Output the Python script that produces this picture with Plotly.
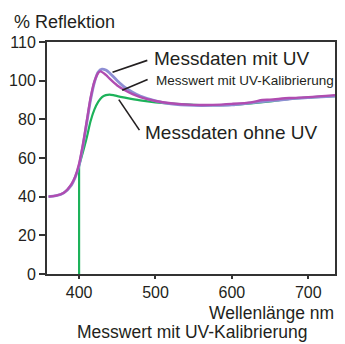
import plotly.graph_objects as go

# Wavelength (nm) and % reflection values
wl_uv = [360, 370, 380, 390, 395, 400, 405, 410, 415, 420, 425, 430, 435, 440, 450, 460, 470, 480, 500, 520, 550, 575, 600, 625, 650, 675, 700, 735]
r_uv = [40, 40.5, 42, 46, 50, 56, 66, 78, 90, 99, 104.5, 106, 105.5, 104, 100, 96.5, 94, 92, 89.5, 88, 87.2, 87.2, 87.5, 88.5, 89.5, 90.5, 91.2, 92]

wl_cal = [360, 370, 380, 390, 395, 400, 405, 410, 415, 420, 425, 428, 435, 440, 450, 460, 470, 480, 500, 520, 550, 575, 600, 625, 640, 650, 675, 700, 735]
r_cal = [40, 40.5, 42, 46.5, 50.5, 57, 67, 79, 91, 99.5, 104, 104.8, 103, 101, 97.5, 95, 93, 91.5, 89.5, 88.3, 87.5, 87.5, 88, 88.8, 90, 90.2, 91, 91.5, 92.5]

wl_no = [400, 400, 405, 410, 415, 420, 425, 430, 435, 440, 445, 450, 460, 480, 500, 525, 550, 575, 600, 625, 650, 675, 700, 735]
r_no = [0, 56, 63, 70.5, 79, 85, 89, 91.5, 92.5, 92.8, 92.5, 92, 91.2, 89.8, 88.8, 88, 87.5, 87.3, 87.5, 88.3, 89.3, 90.5, 91.3, 92]

y_tickvals = [0, 20, 40, 60, 80, 100, 120]
y_ticktext = ["0", "20", "40", "60", "80", "100", "110"]
x_tickvals = [400, 500, 600, 700]

FONT = "Liberation Sans, Arial, Helvetica, sans-serif"
INK = "#231f20"
GREEN = "#1db25a"

fig = go.Figure()
# green: straight vertical rise at 400 nm, then the smooth curve
fig.add_trace(go.Scatter(x=wl_no[:2], y=r_no[:2], mode="lines", line=dict(color=GREEN, width=2.2)))
fig.add_trace(go.Scatter(x=wl_no[1:], y=r_no[1:], mode="lines", line=dict(color=GREEN, width=2.2, shape="spline", smoothing=0.6)))
fig.add_trace(go.Scatter(x=wl_uv, y=r_uv, mode="lines", line=dict(color="#8e8ed4", width=2.8, shape="spline", smoothing=0.8)))
fig.add_trace(go.Scatter(x=wl_cal, y=r_cal, mode="lines", line=dict(color="#b04cb0", width=2.4, shape="spline", smoothing=0.8)))

# leader lines
leaders = [((443.8, 104.3), (489.3, 110.5)), ((456.4, 95.0), (489.7, 100.6)), ((452.0, 90.2), (479.0, 74.4))]
for (x0, y0), (x1, y1) in leaders:
    fig.add_shape(type="line", x0=x0, y0=y0, x1=x1, y1=y1, xref="x", yref="y", line=dict(color=INK, width=1.6))

fig.add_annotation(x=495.0, y=111.6, xref="x", yref="y", text="Messdaten mit UV", showarrow=False,
                   xanchor="left", yanchor="middle", font=dict(size=19, color=INK, family=FONT))
fig.add_annotation(x=497.5, y=100.0, xref="x", yref="y", text="Messwert mit UV-Kalibrierung", showarrow=False,
                   xanchor="left", yanchor="middle", font=dict(size=13.5, color=INK, family=FONT))
fig.add_annotation(x=484.0, y=73.3, xref="x", yref="y", text="Messdaten ohne UV", showarrow=False,
                   xanchor="left", yanchor="middle", font=dict(size=19, color=INK, family=FONT))

fig.add_annotation(x=-0.12, y=1.0875, xref="paper", yref="paper", text="% Reflektion", showarrow=False,
                   xanchor="left", yanchor="middle", font=dict(size=18, color=INK, family=FONT))
fig.add_annotation(x=1.005, y=-0.168, xref="paper", yref="paper", text="Wellenlänge nm", showarrow=False,
                   xanchor="right", yanchor="middle", font=dict(size=17.5, color=INK, family=FONT))
fig.add_annotation(x=0.503, y=-0.252, xref="paper", yref="paper", text="Messwert mit UV-Kalibrierung", showarrow=False,
                   xanchor="center", yanchor="middle", font=dict(size=17.5, color=INK, family=FONT))

fig.update_layout(
    width=345, height=344,
    margin=dict(l=47, r=8, t=42, b=70),
    paper_bgcolor="white", plot_bgcolor="white",
    showlegend=False,
    font=dict(family=FONT, color=INK, size=16),
    xaxis=dict(range=[358, 735], tickvals=x_tickvals, showgrid=False, zeroline=False,
               showline=True, linecolor="#333333", linewidth=2, mirror=True,
               ticks="outside", ticklen=3, tickwidth=2, tickcolor="#333333",
               tickfont=dict(size=16, color=INK, family=FONT)),
    yaxis=dict(range=[0, 120], tickvals=y_tickvals, ticktext=y_ticktext, showgrid=False, zeroline=False,
               showline=True, linecolor="#333333", linewidth=2, mirror=True,
               ticks="outside", ticklen=6, tickwidth=2, tickcolor="#333333",
               tickfont=dict(size=16, color=INK, family=FONT)),
    yaxis2=dict(range=[0, 120], tickvals=y_tickvals, overlaying="y", side="left", anchor="x",
                showgrid=False, zeroline=False, showticklabels=False, showline=False,
                ticks="inside", ticklen=5, tickwidth=2, tickcolor="#333333"),
)

fig.write_html("out.html")
